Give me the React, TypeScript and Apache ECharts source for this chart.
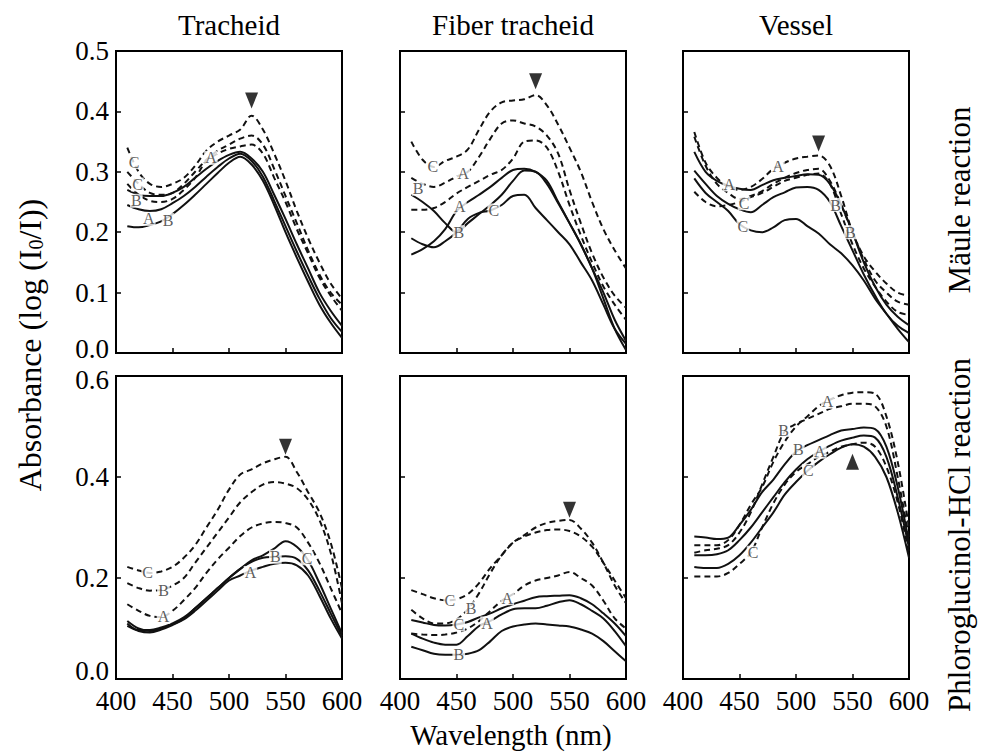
import React, { useEffect, useRef } from "react";
import * as echarts from "echarts";

const FONT = "'Liberation Serif', 'Times New Roman', serif";

const wavelengths = [410, 420, 430, 440, 450, 460, 470, 480, 490, 500, 510, 520, 530, 540, 550, 560, 570, 580, 590, 600];
const columnTitles = ["Tracheid", "Fiber tracheid", "Vessel"];
const rowTitles = ["Mäule reaction", "Phloroglucinol-HCl reaction"];
const rowMax = [0.5, 0.6];
const rowInterval = [0.1, 0.2];

// Tracheid, Mäule
const trMauleDashedC = [0.34, 0.30, 0.28, 0.275, 0.28, 0.29, 0.31, 0.335, 0.35, 0.36, 0.37, 0.393, 0.37, 0.33, 0.285, 0.235, 0.19, 0.15, 0.115, 0.09];
const trMauleDashedB = [0.30, 0.28, 0.265, 0.262, 0.265, 0.28, 0.30, 0.32, 0.335, 0.345, 0.355, 0.36, 0.345, 0.305, 0.26, 0.215, 0.17, 0.13, 0.10, 0.08];
const trMauleDashedA = [0.28, 0.262, 0.252, 0.25, 0.255, 0.27, 0.29, 0.318, 0.33, 0.338, 0.342, 0.345, 0.33, 0.29, 0.25, 0.205, 0.165, 0.125, 0.095, 0.07];
const trMauleSolidC = [0.27, 0.262, 0.26, 0.26, 0.265, 0.275, 0.29, 0.305, 0.318, 0.328, 0.333, 0.322, 0.30, 0.262, 0.222, 0.18, 0.14, 0.10, 0.07, 0.045];
const trMauleSolidB = [0.245, 0.238, 0.235, 0.238, 0.248, 0.26, 0.275, 0.292, 0.308, 0.322, 0.33, 0.318, 0.292, 0.252, 0.21, 0.168, 0.128, 0.09, 0.058, 0.035];
const trMauleSolidA = [0.21, 0.208, 0.212, 0.218, 0.23, 0.245, 0.262, 0.28, 0.298, 0.315, 0.325, 0.312, 0.285, 0.245, 0.20, 0.158, 0.118, 0.08, 0.05, 0.025];
const trMauleLabels: [number, number, string][] = [[416, 0.316, "C"], [419, 0.279, "C"], [418, 0.252, "B"], [429, 0.222, "A"], [446, 0.22, "B"], [484, 0.323, "A"]];

// Fiber tracheid, Mäule
const ftMauleDashedC = [0.35, 0.32, 0.308, 0.318, 0.325, 0.337, 0.37, 0.40, 0.415, 0.418, 0.42, 0.427, 0.41, 0.378, 0.34, 0.30, 0.25, 0.205, 0.17, 0.14];
const ftMauleDashedB = [0.29, 0.28, 0.275, 0.282, 0.292, 0.30, 0.325, 0.355, 0.38, 0.385, 0.38, 0.375, 0.36, 0.33, 0.27, 0.215, 0.165, 0.125, 0.095, 0.075];
const ftMauleDashedA = [0.237, 0.237, 0.24, 0.25, 0.264, 0.275, 0.285, 0.295, 0.303, 0.322, 0.35, 0.352, 0.34, 0.30, 0.245, 0.195, 0.15, 0.11, 0.08, 0.055];
const ftMauleSolidA = [0.163, 0.172, 0.185, 0.205, 0.235, 0.25, 0.262, 0.275, 0.29, 0.303, 0.305, 0.30, 0.285, 0.25, 0.215, 0.18, 0.14, 0.10, 0.055, 0.02];
const ftMauleSolidB = [0.262, 0.25, 0.235, 0.215, 0.20, 0.215, 0.23, 0.245, 0.262, 0.285, 0.302, 0.30, 0.28, 0.248, 0.215, 0.18, 0.14, 0.09, 0.04, 0.005];
const ftMauleSolidC = [0.19, 0.18, 0.175, 0.185, 0.20, 0.222, 0.232, 0.236, 0.245, 0.26, 0.262, 0.24, 0.22, 0.20, 0.18, 0.15, 0.12, 0.08, 0.04, 0.015];
const ftMauleLabels: [number, number, string][] = [[429, 0.308, "C"], [456, 0.297, "A"], [416, 0.272, "B"], [453, 0.242, "A"], [452, 0.20, "B"], [483, 0.236, "C"]];

// Vessel, Mäule
const vsMauleDashedA = [0.366, 0.315, 0.29, 0.275, 0.27, 0.275, 0.288, 0.305, 0.315, 0.322, 0.325, 0.327, 0.31, 0.26, 0.20, 0.16, 0.135, 0.115, 0.10, 0.095];
const vsMauleDashedB = [0.358, 0.31, 0.28, 0.265, 0.255, 0.26, 0.268, 0.28, 0.29, 0.298, 0.303, 0.305, 0.285, 0.245, 0.20, 0.155, 0.12, 0.10, 0.085, 0.08];
const vsMauleDashedC = [0.267, 0.25, 0.243, 0.245, 0.25, 0.258, 0.265, 0.275, 0.285, 0.29, 0.295, 0.297, 0.28, 0.23, 0.18, 0.14, 0.11, 0.085, 0.068, 0.063];
const vsMauleSolidA = [0.333, 0.30, 0.285, 0.277, 0.272, 0.27, 0.278, 0.286, 0.29, 0.293, 0.296, 0.295, 0.28, 0.245, 0.20, 0.15, 0.11, 0.08, 0.06, 0.046];
const vsMauleSolidB = [0.302, 0.28, 0.26, 0.247, 0.238, 0.233, 0.245, 0.258, 0.266, 0.274, 0.275, 0.27, 0.25, 0.21, 0.17, 0.13, 0.095, 0.065, 0.045, 0.033];
const vsMauleSolidC = [0.289, 0.265, 0.25, 0.235, 0.213, 0.203, 0.20, 0.208, 0.22, 0.222, 0.21, 0.198, 0.18, 0.165, 0.145, 0.12, 0.09, 0.065, 0.04, 0.018];
const vsMauleLabels: [number, number, string][] = [[484, 0.308, "A"], [441, 0.279, "A"], [454, 0.248, "C"], [453, 0.209, "C"], [535, 0.245, "B"], [548, 0.20, "B"]];

// Tracheid, Phloroglucinol-HCl
const trPhloDashedC = [0.222, 0.215, 0.21, 0.213, 0.222, 0.24, 0.265, 0.30, 0.335, 0.375, 0.405, 0.415, 0.427, 0.435, 0.44, 0.41, 0.37, 0.33, 0.27, 0.18];
const trPhloDashedB = [0.19, 0.18, 0.175, 0.176, 0.185, 0.20, 0.23, 0.26, 0.29, 0.32, 0.35, 0.37, 0.385, 0.39, 0.387, 0.378, 0.355, 0.315, 0.25, 0.15];
const trPhloDashedA = [0.148, 0.135, 0.125, 0.123, 0.135, 0.156, 0.18, 0.21, 0.237, 0.26, 0.283, 0.30, 0.308, 0.311, 0.309, 0.30, 0.27, 0.23, 0.18, 0.13];
const trPhloSolidC = [0.115, 0.10, 0.095, 0.10, 0.108, 0.12, 0.14, 0.16, 0.18, 0.20, 0.218, 0.235, 0.245, 0.258, 0.273, 0.262, 0.235, 0.19, 0.14, 0.09];
const trPhloSolidB = [0.11, 0.097, 0.097, 0.102, 0.11, 0.122, 0.14, 0.16, 0.18, 0.20, 0.218, 0.232, 0.24, 0.242, 0.243, 0.238, 0.215, 0.175, 0.13, 0.085];
const trPhloSolidA = [0.105, 0.095, 0.092, 0.098, 0.107, 0.118, 0.135, 0.155, 0.175, 0.195, 0.205, 0.215, 0.222, 0.228, 0.23, 0.225, 0.205, 0.165, 0.12, 0.08];
const trPhloLabels: [number, number, string][] = [[428, 0.21, "C"], [442, 0.176, "B"], [442, 0.123, "A"], [519, 0.21, "A"], [541, 0.242, "B"], [569, 0.239, "C"]];

// Fiber tracheid, Phloroglucinol-HCl
const ftPhloDashedC = [0.176, 0.168, 0.16, 0.156, 0.158, 0.168, 0.19, 0.22, 0.245, 0.27, 0.285, 0.30, 0.309, 0.313, 0.315, 0.298, 0.27, 0.23, 0.185, 0.15];
const ftPhloDashedB = [0.137, 0.12, 0.11, 0.11, 0.118, 0.138, 0.17, 0.21, 0.245, 0.27, 0.282, 0.29, 0.295, 0.296, 0.293, 0.282, 0.262, 0.23, 0.195, 0.16];
const ftPhloDashedA = [0.09, 0.088, 0.087, 0.088, 0.092, 0.10, 0.115, 0.135, 0.155, 0.168, 0.185, 0.195, 0.20, 0.205, 0.212, 0.20, 0.185, 0.155, 0.12, 0.10];
const ftPhloSolidC = [0.117, 0.112, 0.107, 0.106, 0.108, 0.113, 0.122, 0.13, 0.14, 0.148, 0.155, 0.162, 0.164, 0.165, 0.166, 0.16, 0.148, 0.13, 0.11, 0.085];
const ftPhloSolidA = [0.09, 0.08, 0.072, 0.068, 0.068, 0.085, 0.105, 0.115, 0.128, 0.138, 0.14, 0.14, 0.145, 0.152, 0.156, 0.148, 0.135, 0.12, 0.095, 0.065];
const ftPhloSolidB = [0.064, 0.057, 0.05, 0.048, 0.048, 0.05, 0.057, 0.075, 0.095, 0.104, 0.108, 0.11, 0.108, 0.106, 0.104, 0.098, 0.09, 0.075, 0.055, 0.035];
const ftPhloLabels: [number, number, string][] = [[444, 0.156, "C"], [463, 0.14, "B"], [495, 0.16, "A"], [452, 0.108, "C"], [477, 0.11, "A"], [452, 0.048, "B"]];

// Vessel, Phloroglucinol-HCl
const vsPhloDashedA = [0.265, 0.265, 0.265, 0.275, 0.305, 0.345, 0.38, 0.43, 0.47, 0.50, 0.52, 0.54, 0.553, 0.562, 0.567, 0.568, 0.565, 0.52, 0.43, 0.30];
const vsPhloDashedB = [0.25, 0.255, 0.258, 0.265, 0.29, 0.33, 0.385, 0.44, 0.49, 0.505, 0.515, 0.525, 0.535, 0.54, 0.545, 0.545, 0.54, 0.50, 0.40, 0.28];
const vsPhloDashedC = [0.203, 0.203, 0.203, 0.21, 0.228, 0.25, 0.30, 0.348, 0.385, 0.41, 0.425, 0.44, 0.45, 0.46, 0.465, 0.468, 0.46, 0.42, 0.35, 0.25];
const vsPhloSolidB = [0.282, 0.28, 0.277, 0.28, 0.305, 0.335, 0.37, 0.395, 0.425, 0.45, 0.463, 0.473, 0.483, 0.492, 0.495, 0.498, 0.495, 0.46, 0.38, 0.27];
const vsPhloSolidA = [0.245, 0.245, 0.247, 0.255, 0.275, 0.30, 0.33, 0.36, 0.39, 0.415, 0.435, 0.45, 0.462, 0.472, 0.478, 0.482, 0.478, 0.44, 0.36, 0.26];
const vsPhloSolidC = [0.222, 0.22, 0.22, 0.228, 0.245, 0.27, 0.30, 0.33, 0.365, 0.39, 0.412, 0.43, 0.445, 0.458, 0.465, 0.46, 0.44, 0.40, 0.33, 0.24];
const vsPhloLabels: [number, number, string][] = [[489, 0.493, "B"], [528, 0.549, "A"], [502, 0.455, "B"], [521, 0.45, "A"], [511, 0.412, "C"], [462, 0.25, "C"]];

// Arrow markers (panel order: row 1 left→right, row 2 left→right)
const arrowWavelength = [520, 520, 520, 550, 550, 550];
const arrowValue = [0.418, 0.45, 0.347, 0.46, 0.335, 0.43];
const arrowPointsUp = [false, false, false, false, false, true];

const panelDashed = [
  [trMauleDashedC, trMauleDashedB, trMauleDashedA],
  [ftMauleDashedC, ftMauleDashedB, ftMauleDashedA],
  [vsMauleDashedA, vsMauleDashedB, vsMauleDashedC],
  [trPhloDashedC, trPhloDashedB, trPhloDashedA],
  [ftPhloDashedC, ftPhloDashedB, ftPhloDashedA],
  [vsPhloDashedA, vsPhloDashedB, vsPhloDashedC],
];
const panelSolid = [
  [trMauleSolidC, trMauleSolidB, trMauleSolidA],
  [ftMauleSolidA, ftMauleSolidB, ftMauleSolidC],
  [vsMauleSolidA, vsMauleSolidB, vsMauleSolidC],
  [trPhloSolidC, trPhloSolidB, trPhloSolidA],
  [ftPhloSolidC, ftPhloSolidA, ftPhloSolidB],
  [vsPhloSolidB, vsPhloSolidA, vsPhloSolidC],
];
const panelLabels = [trMauleLabels, ftMauleLabels, vsMauleLabels, trPhloLabels, ftPhloLabels, vsPhloLabels];

const COL_LEFT = [116, 400, 683];
const COL_W = 226;
const ROW_TOP = [51, 376];
const ROW_H = [302, 303];
const TICK_FONT = 27;

function buildOption() {
  const grid: any[] = [];
  const xAxis: any[] = [];
  const yAxis: any[] = [];
  const series: any[] = [];
  for (let p = 0; p < 6; p++) {
    const row = Math.floor(p / 3);
    const col = p % 3;
    grid.push({
      left: COL_LEFT[col],
      top: ROW_TOP[row],
      width: COL_W,
      height: ROW_H[row],
      show: true,
      borderColor: "#000",
      borderWidth: 2,
      backgroundColor: "transparent",
      containLabel: false,
    });
    xAxis.push({
      type: "value",
      gridIndex: p,
      min: 400,
      max: 600,
      interval: 50,
      axisLine: { show: true, onZero: false, lineStyle: { color: "#000", width: 2 } },
      axisTick: { show: true, inside: true, length: 5, lineStyle: { color: "#000", width: 1.5 } },
      splitLine: { show: false },
      axisLabel: {
        show: row === 1,
        color: "#000",
        fontFamily: FONT,
        fontSize: TICK_FONT,
        margin: 8,
      },
    });
    const rich = {
      up: { fontFamily: FONT, fontSize: TICK_FONT, color: "#000", padding: [0, 0, row === 0 ? 8 : 16, 0] },
      down: { fontFamily: FONT, fontSize: TICK_FONT, color: "#000", padding: [8, 0, 0, 0] },
    };
    yAxis.push({
      type: "value",
      gridIndex: p,
      min: 0,
      max: rowMax[row],
      interval: rowInterval[row],
      axisLine: { show: true, onZero: false, lineStyle: { color: "#000", width: 2 } },
      axisTick: { show: true, inside: true, length: 5, lineStyle: { color: "#000", width: 1.5 } },
      splitLine: { show: false },
      axisLabel: {
        show: col === 0,
        color: "#000",
        fontFamily: FONT,
        fontSize: TICK_FONT,
        margin: 7,
        rich,
        formatter: (v: number) => {
          const s = v.toFixed(1);
          if (v === 0) return `{up|${s}}`;
          if (row === 1 && Math.abs(v - rowMax[row]) < 1e-9) return `{down|${s}}`;
          return s;
        },
      },
    });
    const lineSets: [number[][], boolean][] = [[panelDashed[p], true], [panelSolid[p], false]];
    lineSets.forEach(([set, dashed]) => {
      set.forEach((vals, k) => {
        series.push({
          type: "line",
          name: `panel${p}-${dashed ? "dashed" : "solid"}-${k}`,
          xAxisIndex: p,
          yAxisIndex: p,
          data: wavelengths.map((w, i) => [w, vals[i]]),
          symbol: "none",
          smooth: 0.35,
          silent: true,
          lineStyle: { color: "#111", width: 2, type: dashed ? [6, 4] : "solid" },
          z: 2,
        });
      });
    });
    series.push({
      type: "scatter",
      xAxisIndex: p,
      yAxisIndex: p,
      data: panelLabels[p].map((d) => [d[0], d[1], d[2]]),
      symbolSize: 1,
      itemStyle: { color: "rgba(0,0,0,0)" },
      silent: true,
      z: 5,
      label: {
        show: true,
        position: "inside",
        formatter: (prm: any) => prm.value[2],
        fontFamily: FONT,
        fontSize: 16,
        lineHeight: 14,
        color: "#333",
        backgroundColor: "#fff",
        padding: [0, 1, 0, 1],
      },
    });
    series.push({
      type: "scatter",
      xAxisIndex: p,
      yAxisIndex: p,
      data: [[arrowWavelength[p], arrowValue[p]]],
      symbol: "triangle",
      symbolSize: [13, 16],
      symbolRotate: arrowPointsUp[p] ? 0 : 180,
      itemStyle: { color: "#000" },
      silent: true,
      z: 6,
    });
  }

  const graphic: any[] = [];
  columnTitles.forEach((t, c) => {
    graphic.push({
      type: "text",
      x: COL_LEFT[c] + COL_W / 2,
      y: 25,
      style: { fill: "#000", font: `29px ${FONT}`, text: t, textAlign: "center", textVerticalAlign: "middle" },
    });
  });
  const rowCenters = [200, 535];
  rowTitles.forEach((t, r) => {
    graphic.push({
      type: "text",
      x: 959,
      y: rowCenters[r],
      rotation: Math.PI / 2,
      style: { fill: "#000", font: `31px ${FONT}`, text: t, textAlign: "center", textVerticalAlign: "middle" },
    });
  });
  graphic.push({
    type: "text",
    x: 511,
    y: 735,
    style: { fill: "#000", font: `29px ${FONT}`, text: "Wavelength (nm)", textAlign: "center", textVerticalAlign: "middle" },
  });
  graphic.push({
    type: "text",
    x: 30,
    y: 345,
    rotation: Math.PI / 2,
    style: {
      text: "{m|Absorbance (log (I}{s|0}{m|/I))}",
      textAlign: "center",
      textVerticalAlign: "middle",
      rich: {
        m: { fontFamily: FONT, fontSize: 32, fill: "#000", color: "#000" },
        s: { fontFamily: FONT, fontSize: 20, fill: "#000", color: "#000", verticalAlign: "bottom", padding: [12, 0, 0, 0] },
      },
    },
  });

  return {
    animation: false,
    backgroundColor: "#fff",
    grid,
    xAxis,
    yAxis,
    series,
    graphic,
  };
}

export default function App() {
  const ref = useRef<HTMLDivElement>(null);
  useEffect(() => {
    if (!ref.current) return;
    const chart = echarts.init(ref.current, undefined, { renderer: "svg" });
    chart.setOption(buildOption() as any);
    return () => chart.dispose();
  }, []);
  return (
    <div
      ref={ref}
      style={{ position: "fixed", left: 0, top: 0, width: 983, height: 755, background: "#fff" }}
    />
  );
}
